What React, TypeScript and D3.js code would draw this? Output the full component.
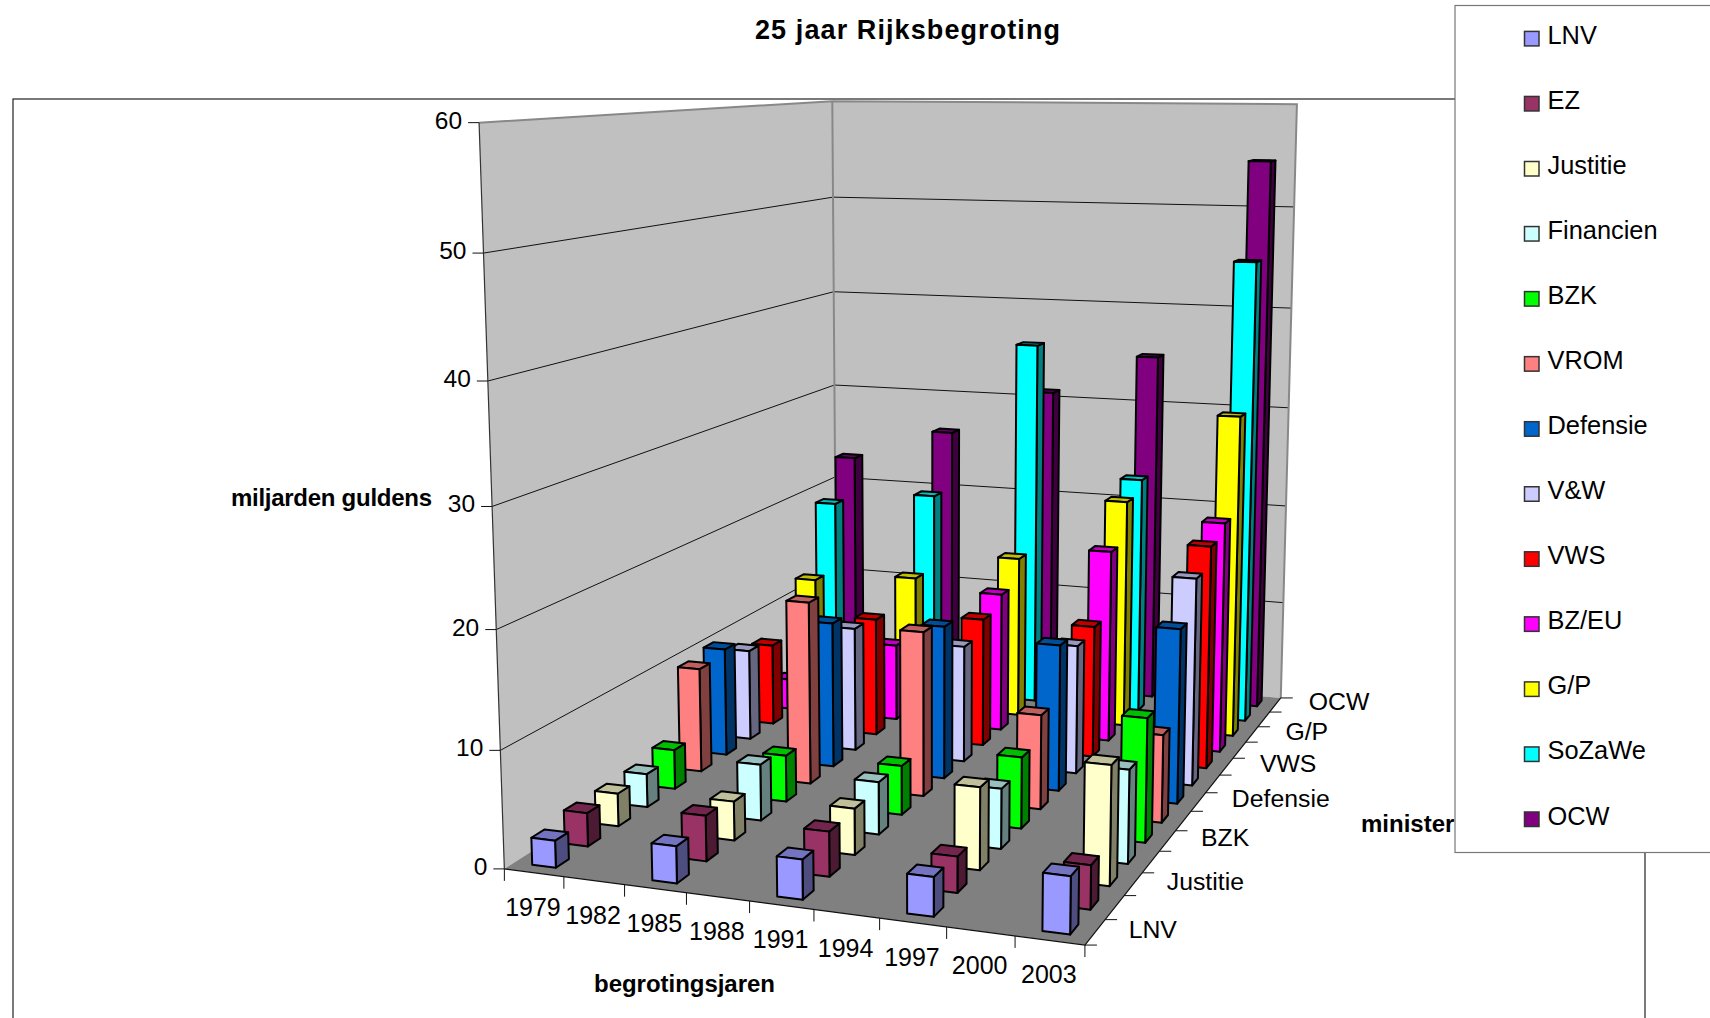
import React, { useMemo } from "react";
import * as d3 from "d3";

const title = "25 jaar Rijksbegroting";
const years = ["1979","1982","1985","1988","1991","1994","1997","2000","2003"];
const barYears = ["1979","1985","1991","1997","2003"];
const ministries = ["LNV","EZ","Justitie","Financien","BZK","VROM","Defensie","V&W","VWS","BZ/EU","G/P","SoZaWe","OCW"];
const depthLabels = ["LNV","Justitie","BZK","Defensie","VWS","G/P","OCW"];
const valueTicks = [0,10,20,30,40,50,60];
const colors = ["#9999FF","#993366","#FFFFCC","#CCFFFF","#00FF00","#FF8080","#0066CC","#CCCCFF","#FF0000","#FF00FF","#FFFF00","#00FFFF","#800080"];

const LNV = [2.3, 3.1, 3.3, 3.2, 4.6];
const EZ = [2.9, 3.9, 3.8, 3.0, 3.6];
const Justitie = [2.9, 3.4, 4, 7, 10];
const Financien = [3, 5, 4.6, 5.2, 8];
const BZK = [3.6, 4.2, 4.4, 6.3, 10.8];
const VROM = [9.7, 16.8, 15, 8.5, 7.8];
const Defensie = [10.2, 13.6, 14.2, 13.4, 15.8];
const VW = [8.7, 11.8, 11, 12, 19.1];
const VWS = [7.9, 11.4, 12.3, 12.5, 20.9];
const BZEU = [3, 7.5, 13.5, 18.5, 22];
const GP = [12.1, 13.1, 15.9, 22.3, 31.2];
const SoZaWe = [19, 20.5, 36.4, 23.5, 45.3];
const OCW = [22.9, 26.2, 30.9, 35, 54.6];
const seriesValues = [LNV,EZ,Justitie,Financien,BZK,VROM,Defensie,VW,VWS,BZEU,GP,SoZaWe,OCW];

// camera calibration: unit-cube point -> pixel, weight; fitted to a projective camera below
const anchors: number[][] = [
  [0,0,0,505,867,6],[1,0,0,1085,947,6],[1,1,0,1281,696,6],[0,1,0,834,666,3],
  [0,0,1,478,123,5],[0,1,1,833.5,100.7,5],[1,1,1,1296.6,105,5],
  [0,0,5/6,483,253,1],[0,0,4/6,488,381,1],[0,0,3/6,492,505,1],[0,0,2/6,496,629,1],[0,0,1/6,500.7,749,1],
  [0,1,5/6,833.6,195.3,2],[0,1,4/6,833.7,291,2],[0,1,3/6,833.8,383,2],[0,1,2/6,833.9,476,2],
  [1,1,5/6,1293.4,207.3,1],[1,1,4/6,1290.7,309,1],[1,1,3/6,1288,407,1],[1,1,2/6,1285,505,1],
];

function solve(A: number[][], b: number[]) {
  const n = b.length;
  const M = A.map((r, i) => [...r, b[i]]);
  for (let c = 0; c < n; c++) {
    let p = c;
    for (let r = c + 1; r < n; r++) if (Math.abs(M[r][c]) > Math.abs(M[p][c])) p = r;
    [M[c], M[p]] = [M[p], M[c]];
    for (let r = 0; r < n; r++) {
      if (r === c) continue;
      const f = M[r][c] / M[c][c];
      for (let k = c; k <= n; k++) M[r][k] -= f * M[c][k];
    }
  }
  return M.map((r, i) => r[n] / r[i]);
}

function fitCamera() {
  const rows: number[][] = [];
  const rhs: number[] = [];
  for (const [X, Y, Z, u0, v0, w] of anchors) {
    const u = u0 / 1000, v = v0 / 1000;
    rows.push([X,Y,Z,1,0,0,0,0,-u*X,-u*Y,-u*Z].map((a) => a * w)); rhs.push(u * w);
    rows.push([0,0,0,0,X,Y,Z,1,-v*X,-v*Y,-v*Z].map((a) => a * w)); rhs.push(v * w);
  }
  const n = 11;
  const AtA = d3.range(n).map((i) => d3.range(n).map((j) => d3.sum(rows, (r) => r[i] * r[j])));
  const Atb = d3.range(n).map((i) => d3.sum(rows, (r, k) => r[i] * rhs[k]));
  const p = solve(AtA, Atb);
  return (X: number, Y: number, Z: number): [number, number] => {
    const w = p[8]*X + p[9]*Y + p[10]*Z + 1;
    return [1000*(p[0]*X+p[1]*Y+p[2]*Z+p[3])/w, 1000*(p[4]*X+p[5]*Y+p[6]*Z+p[7])/w];
  };
}

const F = "'Liberation Sans', Arial, sans-serif";
const barFraction = 0.4;

export default function App() {
  const project = useMemo(fitCamera, []);
  const xBand = d3.scaleBand<string>().domain(years).range([0, 1]);
  const yBand = d3.scaleBand<string>().domain(ministries).range([0, 1]);
  const zScale = d3.scaleLinear().domain([0, 60]).range([0, 1]);
  const poly = d3.line<number[]>().x((d) => d[0]).y((d) => d[1]);
  const path = (pts: [number, number, number][], close = true) =>
    poly(pts.map((p) => project(p[0], p[1], p[2]))) + (close ? "Z" : "");

  const bars: React.ReactNode[] = [];
  for (let s = ministries.length - 1; s >= 0; s--) {
    const c = colors[s];
    const y0 = yBand(ministries[s])! + (yBand.bandwidth() * (1 - barFraction)) / 2;
    const y1 = y0 + yBand.bandwidth() * barFraction;
    barYears.forEach((yr, g) => {
      const x0 = xBand(yr)! + (xBand.bandwidth() * (1 - barFraction)) / 2;
      const x1 = x0 + xBand.bandwidth() * barFraction;
      const z = zScale(seriesValues[s][g]);
      const st = { stroke: "#000", strokeWidth: 2, strokeLinejoin: "round" as const };
      const col = d3.rgb(c);
      const shade = (k: number) => d3.rgb(col.r * k, col.g * k, col.b * k).formatHex();
      bars.push(
        <g key={`${s}-${g}`}>
          <path d={path([[x1,y0,0],[x1,y1,0],[x1,y1,z],[x1,y0,z]])} fill={shade(0.5)} {...st} />
          <path d={path([[x0,y0,z],[x1,y0,z],[x1,y1,z],[x0,y1,z]])} fill={shade(0.75)} {...st} />
          <path d={path([[x0,y0,0],[x1,y0,0],[x1,y0,z],[x0,y0,z]])} fill={c} {...st} />
        </g>
      );
    });
  }

  const legendY = d3.scaleLinear().domain([0, 12]).range([38.4, 819]);
  const xTicks = [...xBand.domain().map((d) => xBand(d)!), 1];
  const yTicks = [...yBand.domain().map((d) => yBand(d)!), 1];

  return (
    <svg width={1710} height={1018} style={{ position: "absolute", left: 0, top: 0, display: "block", background: "#fff" }} fontFamily={F}>
      <text x={907.5} y={39} textAnchor="middle" fontWeight="bold" fontSize={27} textLength={305} lengthAdjust="spacing">{title}</text>
      <rect x={13} y={99} width={1632} height={1000} fill="#fff" stroke="#222" strokeWidth={1.2} />

      {/* walls and floor */}
      <path d={path([[0,0,0],[0,1,0],[0,1,1],[0,0,1]])} fill="#C0C0C0" />
      <path d={path([[0,1,0],[1,1,0],[1,1,1],[0,1,1]])} fill="#C0C0C0" />
      <path d={path([[0,0,0],[1,0,0],[1,1,0],[0,1,0]])} fill="#808080" />
      {valueTicks.filter((v) => v > 0 && v < 60).map((v) => (
        <path key={v} d={path([[0,0,zScale(v)],[0,1,zScale(v)],[1,1,zScale(v)]], false)} fill="none" stroke="#111" strokeWidth={1} />
      ))}
      <path d={path([[0,0,1],[0,1,1],[1,1,1],[1,1,0]], false)} fill="none" stroke="#888" strokeWidth={2} />
      <path d={path([[0,1,0],[0,1,1]], false)} fill="none" stroke="#888" strokeWidth={2} />
      <path d={path([[0,0,0],[0,0,1]], false)} fill="none" stroke="#333" strokeWidth={1.2} />
      <path d={path([[0,0,0],[1,0,0],[1,1,0]], false)} fill="none" stroke="#111" strokeWidth={1.2} />

      {/* value axis */}
      {valueTicks.map((v) => {
        const [px, py] = project(0, 0, zScale(v));
        return (
          <g key={v}>
            <line x1={px - 11} x2={px} y1={py} y2={py} stroke="#111" strokeWidth={1} />
            <text x={px - 17} y={py + 6} textAnchor="end" fontSize={24.5}>{v}</text>
          </g>
        );
      })}
      {/* year axis */}
      {xTicks.map((t, i) => {
        const [px, py] = project(t, 0, 0);
        return <line key={i} x1={px} x2={px} y1={py} y2={py + 12} stroke="#111" strokeWidth={1} />;
      })}
      {years.map((yr) => {
        const [px, py] = project(xBand(yr)! + xBand.bandwidth() / 2, 0, 0);
        return <text key={yr} x={px - 1} y={py + 43} textAnchor="middle" fontSize={25}>{yr}</text>;
      })}
      {/* ministry axis */}
      {yTicks.map((t, i) => {
        const [px, py] = project(1, t, 0);
        return <line key={i} x1={px} x2={px + 12} y1={py} y2={py} stroke="#111" strokeWidth={1} />;
      })}
      {depthLabels.map((m) => {
        const [px, py] = project(1, yBand(m)! + yBand.bandwidth() / 2, 0);
        return <text key={m} x={px + 33.5} y={py + 5.5} fontSize={24.8}>{m}</text>;
      })}

      {bars}

      <text x={231} y={506} fontWeight="bold" fontSize={24} textLength={201} lengthAdjust="spacing">miljarden guldens</text>
      <text x={594} y={992} fontWeight="bold" fontSize={24} textLength={181} lengthAdjust="spacing">begrotingsjaren</text>
      <text x={1361} y={832} fontWeight="bold" fontSize={24}>ministeries</text>

      {/* legend */}
      <rect x={1455} y={5.5} width={300} height={847} fill="#fff" stroke="#777" strokeWidth={1.2} />
      {ministries.map((m, i) => {
        const y = legendY(i);
        return (
          <g key={m}>
            <rect x={1524.5} y={y - 7} width={14.5} height={14.5} fill={colors[i]} stroke="#333" strokeWidth={1.5} />
            <text x={1547.5} y={y + 5.5} fontSize={25.4}>{m}</text>
          </g>
        );
      })}
    </svg>
  );
}
